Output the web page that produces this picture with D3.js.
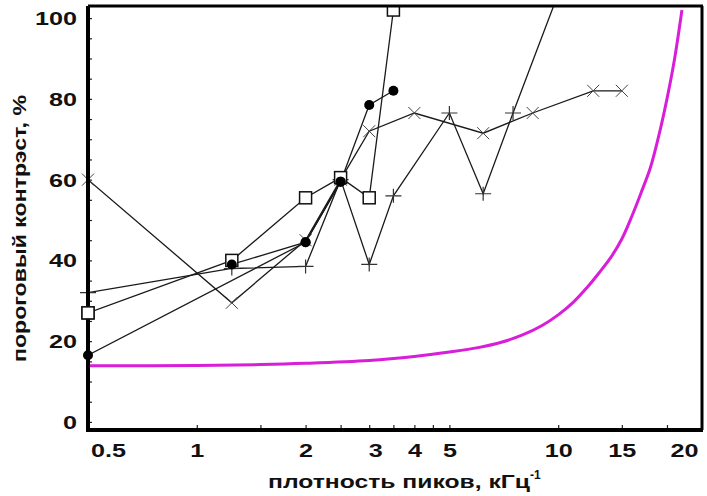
<!DOCTYPE html>
<html>
<head>
<meta charset="utf-8">
<script src="https://cdn.jsdelivr.net/npm/d3@7"></script>
<style>
  body { margin: 0; background: #fff; }
  svg text { font-family: "Liberation Sans", Arial, sans-serif; font-weight: bold; fill: #111; }
</style>
</head>
<body>
<div id="chart"></div>
<script>
// data (x = плотность пиков, кГц^-1 ; y = %)
const squareX = [0.5, 1.25, 2, 2.5, 3, 3.5];
const squareY = [27, 40, 55.5, 60.5, 55.5, 102];

const dotX = [0.5, 2, 2.5, 3, 3.5];
const dotY = [16.5, 44.5, 59.5, 78.5, 82];

const dot2X = [1.25, 2, 2.5];
const dot2Y = [39, 44.5, 59.5];

const crossX = [0.5, 1.25, 2, 2.5, 3, 4, 6.2, 8.5, 12.5, 15];
const crossY = [60, 29.5, 45, 60, 72, 76.5, 71.5, 76.5, 82, 82];

const plusX = [0.5, 1.25, 2, 2.5, 3, 3.5, 5, 6.2, 7.5, 10];
const plusY = [32, 38, 38.5, 60, 39, 56, 76.5, 56.5, 76.5, 106];

const curveX = [0.5, 1, 1.5, 2, 3, 4, 5, 6, 7, 8, 9, 10, 11, 12, 13, 14, 15, 16, 17, 18, 19, 20, 21, 22];
const curveY = [13.9, 14, 14.2, 14.5, 15.2, 16.2, 17.3, 18.4, 19.8, 21.6, 23.8, 26.5, 29.6, 33.2, 37, 40.8, 45.3, 51, 57, 63, 71, 80, 90, 102];

const xTicks = [0.5, 1, 1.5, 2, 2.5, 3, 3.5, 4, 4.5, 5, 10, 15, 20];
const xTickLabels = [0.5, 1, 2, 3, 4, 5, 10, 15, 20];
const yTicks = d3.range(0, 101, 5);
const yTickLabels = [0, 20, 40, 60, 80, 100];

const width = 707, height = 496;
const plot = {left: 88, right: 702, top: 6, bottom: 430};

// small nudges for tick labels that sit off their ticks in the original
const labelDx = {0.5: 20, 3: 6, 20: 17};

let x = d3.scaleLog().domain([0.5, 25]).range([plot.left, plot.right]);
let y = d3.scaleLinear().domain([-2, 103]).range([plot.bottom, plot.top]);

const zip = (xs, ys) => xs.map((d, i) => [d, ys[i]]);

let svg = d3.select("#chart").append("svg")
  .attr("width", width)
  .attr("height", height);

let defs = svg.append("defs");
defs.append("clipPath").attr("id", "plotclip")
  .append("rect")
  .attr("x", plot.left).attr("y", plot.top)
  .attr("width", plot.right - plot.left)
  .attr("height", plot.bottom - plot.top);
// markers may hang over the left axis, but not above the top border
defs.append("clipPath").attr("id", "markclip")
  .append("rect")
  .attr("x", 0).attr("y", plot.top)
  .attr("width", width)
  .attr("height", plot.bottom - plot.top);

// axes
let xAxis = d3.axisBottom(x)
  .tickValues(xTicks)
  .tickSizeInner(-5).tickSizeOuter(0)
  .tickFormat(d => xTickLabels.indexOf(d) > -1 ? d : "");

let yAxis = d3.axisLeft(y)
  .tickValues(yTicks)
  .tickSizeInner(-4).tickSizeOuter(0)
  .tickFormat(d => yTickLabels.indexOf(d) > -1 ? d : "");

let gx = svg.append("g")
  .attr("transform", `translate(0,${plot.bottom})`)
  .call(xAxis);
gx.select(".domain").remove();
gx.selectAll(".tick line").attr("stroke", "#222").attr("stroke-width", 1.2);
gx.selectAll(".tick text")
  .attr("y", 27).attr("dy", null)
  .attr("font-size", 18)
  .attr("transform", d => `translate(${labelDx[d] || 0},0) scale(1.4,1)`);

let gy = svg.append("g")
  .attr("transform", `translate(${plot.left},0)`)
  .call(yAxis);
gy.select(".domain").remove();
gy.selectAll(".tick line").attr("stroke", "#222").attr("stroke-width", 1.2);
gy.selectAll(".tick text")
  .attr("x", 0).attr("dy", "0.36em")
  .attr("font-size", 18)
  .attr("transform", "translate(-11,0) scale(1.4,1)");

// data layer
let layer = svg.append("g").attr("clip-path", "url(#plotclip)");
let marks = svg.append("g").attr("clip-path", "url(#markclip)");

let line = d3.line()
  .x(d => x(d[0]))
  .y(d => y(d[1]));

let smooth = d3.line()
  .x(d => x(d[0]))
  .y(d => y(d[1]))
  .curve(d3.curveCatmullRom.alpha(0.5));

layer.append("path")
  .datum(zip(curveX, curveY))
  .attr("d", smooth)
  .attr("fill", "none")
  .attr("stroke", "#d81ed8")
  .attr("stroke-width", 3);

[zip(crossX, crossY), zip(plusX, plusY), zip(squareX, squareY), zip(dotX, dotY), zip(dot2X, dot2Y)]
  .forEach(s => {
    layer.append("path")
      .datum(s)
      .attr("d", line)
      .attr("fill", "none")
      .attr("stroke", "#1a1a1a")
      .attr("stroke-width", 1.3);
  });

// markers
marks.selectAll("path.cross")
  .data(zip(crossX, crossY))
  .enter().append("path")
  .attr("class", "cross")
  .attr("d", d => `M${x(d[0]) - 6},${y(d[1]) - 6}L${x(d[0]) + 6},${y(d[1]) + 6}M${x(d[0]) - 6},${y(d[1]) + 6}L${x(d[0]) + 6},${y(d[1]) - 6}`)
  .attr("stroke", "#444")
  .attr("stroke-width", 1);

marks.selectAll("path.plus")
  .data(zip(plusX, plusY))
  .enter().append("path")
  .attr("class", "plus")
  .attr("d", d => `M${x(d[0]) - 8},${y(d[1])}L${x(d[0]) + 8},${y(d[1])}M${x(d[0])},${y(d[1]) - 7}L${x(d[0])},${y(d[1]) + 7}`)
  .attr("stroke", "#333")
  .attr("stroke-width", 1.2);

marks.selectAll("rect.square")
  .data(zip(squareX, squareY))
  .enter().append("rect")
  .attr("class", "square")
  .attr("x", d => x(d[0]) - 6)
  .attr("y", d => y(d[1]) - 6)
  .attr("width", 12).attr("height", 12)
  .attr("fill", "#fff")
  .attr("stroke", "#111")
  .attr("stroke-width", 1.5);

// frame: heavy left/bottom axes, lighter top/right
svg.append("line")
  .attr("x1", plot.left).attr("x2", plot.left)
  .attr("y1", plot.top).attr("y2", plot.bottom + 2)
  .attr("stroke", "#000").attr("stroke-width", 4);
svg.append("line")
  .attr("x1", plot.left - 2).attr("x2", plot.right + 1)
  .attr("y1", plot.bottom).attr("y2", plot.bottom)
  .attr("stroke", "#000").attr("stroke-width", 4);
svg.append("line")
  .attr("x1", plot.left).attr("x2", plot.right + 1)
  .attr("y1", plot.top).attr("y2", plot.top)
  .attr("stroke", "#000").attr("stroke-width", 3);
svg.append("line")
  .attr("x1", plot.right).attr("x2", plot.right)
  .attr("y1", plot.top).attr("y2", plot.bottom)
  .attr("stroke", "#000").attr("stroke-width", 3);

// the left square sits on top of the axis line in the original
svg.selectAll("rect.edge")
  .data(zip(squareX, squareY).filter(d => d[0] === 0.5))
  .enter().append("rect")
  .attr("class", "edge")
  .attr("x", d => x(d[0]) - 6)
  .attr("y", d => y(d[1]) - 6)
  .attr("width", 12).attr("height", 12)
  .attr("fill", "#fff")
  .attr("stroke", "#111")
  .attr("stroke-width", 1.5);

svg.selectAll("circle.dot")
  .data(zip(dotX, dotY).concat(zip(dot2X, dot2Y)))
  .enter().append("circle")
  .attr("class", "dot")
  .attr("cx", d => x(d[0]))
  .attr("cy", d => y(d[1]))
  .attr("r", 5)
  .attr("fill", "#000");

// axis titles
let xt = svg.append("text")
  .attr("x", 268).attr("y", 488)
  .attr("font-size", 19);
xt.append("tspan")
  .attr("textLength", 262).attr("lengthAdjust", "spacingAndGlyphs")
  .text("плотность пиков, кГц");
xt.append("tspan")
  .attr("dy", -9).attr("font-size", 12)
  .text("-1");

svg.append("text")
  .attr("transform", "translate(26,362) rotate(-90)")
  .attr("font-size", 19)
  .attr("textLength", 267).attr("lengthAdjust", "spacingAndGlyphs")
  .text("пороговый контрэст, %");
</script>
</body>
</html>
